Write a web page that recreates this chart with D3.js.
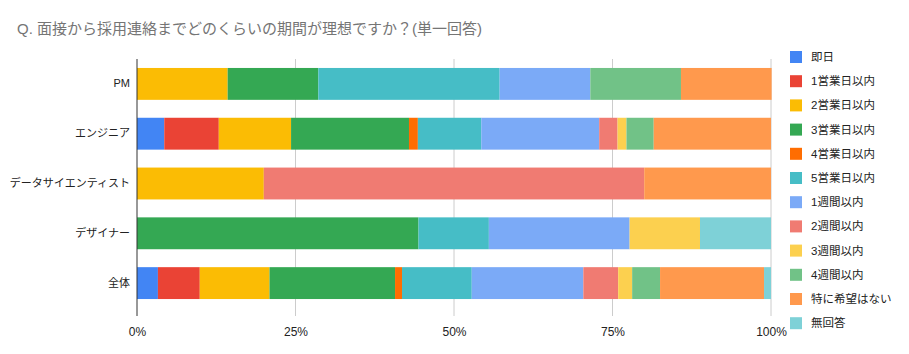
<!DOCTYPE html>
<html>
<head>
<meta charset="utf-8">
<script src="https://cdn.jsdelivr.net/npm/d3@7"></script>
<style>
  body { margin: 0; background: #fff; }
  svg text { font-family: "Liberation Sans", Arial, "Noto Sans CJK JP", sans-serif; }
</style>
</head>
<body>
<div id="chart"></div>
<script>
// categories (top to bottom)
const categories = ["PM", "エンジニア", "データサイエンティスト", "デザイナー", "全体"];

// answer options, in stacking order
const seriesNames = ["即日", "1営業日以内", "2営業日以内", "3営業日以内", "4営業日以内", "5営業日以内",
  "1週間以内", "2週間以内", "3週間以内", "4週間以内", "特に希望はない", "無回答"];

const seriesColors = ["#4285F4", "#EA4335", "#FBBC04", "#34A853", "#FF6D01", "#46BDC6",
  "#7BAAF7", "#F07B72", "#FCD04F", "#71C287", "#FF994D", "#7ED1D7"];

// share (%) per category, one value per answer option
const pmValues        = [0, 0, 14.3, 14.3, 0, 28.6, 14.3, 0, 0, 14.3, 14.3, 0];
const engineerValues  = [4.3, 8.6, 11.4, 18.6, 1.4, 10.0, 18.6, 2.9, 1.4, 4.3, 18.5, 0];
const scientistValues = [0, 0, 20.0, 0, 0, 0, 0, 60.0, 0, 0, 20.0, 0];
const designerValues  = [0, 0, 0, 44.4, 0, 11.1, 22.2, 0, 11.1, 0, 0, 11.2];
const totalValues     = [3.3, 6.6, 11.0, 19.8, 1.1, 11.0, 17.6, 5.5, 2.2, 4.4, 16.4, 1.1];

const xTicks = [0, 25, 50, 75, 100];
const titleText = "Q. 面接から採用連絡までどのくらいの期間が理想ですか？(単一回答)";

const valueRows = [pmValues, engineerValues, scientistValues, designerValues, totalValues];
const table = categories.map((c, i) => {
  const row = { category: c };
  seriesNames.forEach((s, j) => row[s] = valueRows[i][j]);
  return row;
});

const W = 909, H = 354;
const plot = { left: 137, right: 771, top: 59, bottom: 308, axisBottom: 316 };

const svg = d3.select("#chart").append("svg")
  .attr("width", W).attr("height", H);

svg.append("text")
  .attr("x", 17).attr("y", 34)
  .attr("font-size", 15)
  .attr("fill", "#757575")
  .text(titleText);

const x = d3.scaleLinear().domain([0, 100]).range([plot.left, plot.right]);
const y = d3.scaleBand().domain(categories)
  .range([plot.top, plot.bottom])
  .paddingInner(0.36).paddingOuter(0.18);
const color = d3.scaleOrdinal().domain(seriesNames).range(seriesColors);

// gridlines
svg.append("g").selectAll("line")
  .data(xTicks.slice(1))
  .join("line")
  .attr("x1", d => x(d)).attr("x2", d => x(d))
  .attr("y1", plot.top).attr("y2", plot.axisBottom)
  .attr("stroke", "#cccccc").attr("stroke-width", 1);

// stacked bars
const stacked = d3.stack().keys(seriesNames)(table);
svg.append("g").selectAll("g")
  .data(stacked)
  .join("g")
  .attr("fill", d => color(d.key))
  .selectAll("rect")
  .data(d => d)
  .join("rect")
  .attr("x", d => x(d[0]))
  .attr("y", d => y(d.data.category))
  .attr("width", d => Math.max(0, x(d[1]) - x(d[0])))
  .attr("height", y.bandwidth());

// category axis
const yAxis = svg.append("g")
  .attr("transform", `translate(${plot.left},0)`)
  .call(d3.axisLeft(y).tickSize(0).tickPadding(7));
yAxis.select(".domain").remove();
yAxis.selectAll("text").attr("font-size", 11).attr("fill", "#222");

svg.append("line")
  .attr("x1", plot.left).attr("x2", plot.left)
  .attr("y1", plot.top).attr("y2", plot.axisBottom)
  .attr("stroke", "#333").attr("stroke-width", 1);

// value axis labels
const xAxis = svg.append("g")
  .attr("transform", `translate(0,${plot.axisBottom})`)
  .call(d3.axisBottom(x).tickValues(xTicks).tickFormat(d => d + "%").tickSize(0).tickPadding(11));
xAxis.select(".domain").remove();
xAxis.selectAll("text").attr("font-size", 12).attr("fill", "#222");

// legend
const legend = svg.append("g").selectAll("g")
  .data(seriesNames)
  .join("g")
  .attr("transform", (d, i) => `translate(790,${57 + i * 24.2})`);
legend.append("rect")
  .attr("x", 0).attr("y", -6)
  .attr("width", 12).attr("height", 12)
  .attr("fill", d => color(d));
legend.append("text")
  .attr("x", 21).attr("y", 0)
  .attr("dy", "0.35em")
  .attr("font-size", 11.5)
  .attr("fill", "#222")
  .text(d => d);
</script>
</body>
</html>
